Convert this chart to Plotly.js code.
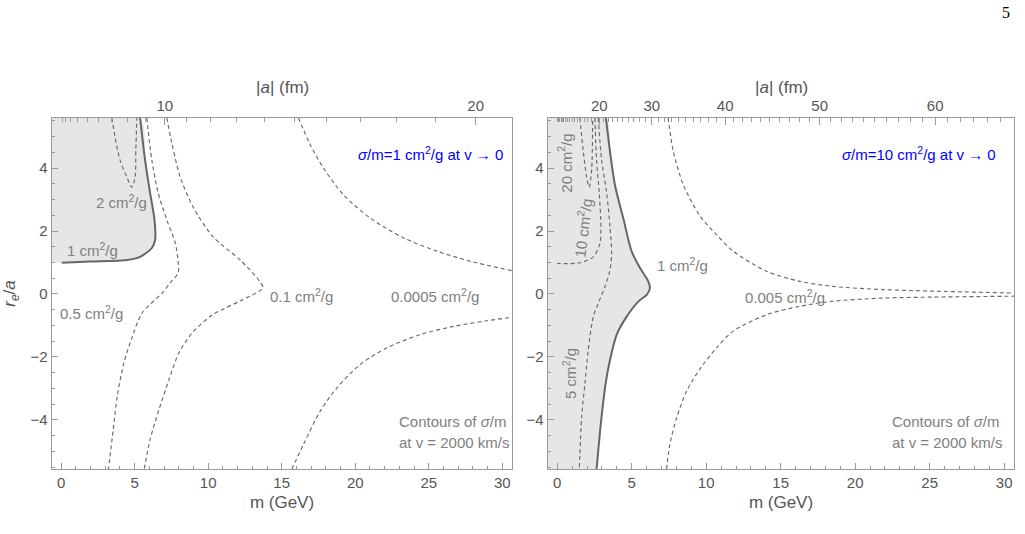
<!DOCTYPE html>
<html>
<head>
<meta charset="utf-8">
<script src="https://cdn.plot.ly/plotly-3.0.1.min.js"></script>
<style>html,body{margin:0;padding:0;background:#fff;}#chart{width:1025px;height:534px;}</style>
</head>
<body>
<div id="chart"></div>
<script>
// ---------- axis / scale data ----------
const xRange = [-0.62, 30.66];
const yRange = [-5.56, 5.59];
const mTicks = [0, 5, 10, 15, 20, 25, 30];
const yTicks = [-4, -2, 0, 2, 4];
// |a| (fm) top-axis labels; |a| = K * sqrt(m)
const K_left = 3.767;                       // sigma/m = 1 cm^2/g at v->0
const K_right = 3.767 * Math.sqrt(10);      // sigma/m = 10 cm^2/g at v->0
const aMajorLeft = [10, 20];
const aMajorRight = [20, 30, 40, 50, 60];

// ---------- left panel contours (m in GeV, r_e/a) ----------
const L1_m = [0.05, 1.97, 4.47, 5.37, 6.17, 6.39, 6.35, 6.05, 5.71, 5.37];
const L1_y = [0.99, 1.03, 1.08, 1.18, 1.46, 1.71, 2.35, 3.21, 4.25, 5.59];
const L2_m = [3.45, 3.67, 4.01, 4.47, 4.81, 5.03, 5.08, 5.15];
const L2_y = [5.59, 4.98, 4.25, 3.71, 3.39, 3.71, 4.57, 5.59];
const L05_m = [5.83, 6.17, 6.60, 7.19, 7.76, 7.96, 7.96, 7.41, 6.87, 5.51, 4.83, 4.27, 3.81, 3.54, 3.22];
const L05_y = [5.59, 4.25, 3.21, 2.35, 1.62, 1.02, 0.67, 0.35, 0.03, -0.60, -1.37, -2.19, -3.27, -4.32, -5.56];
const L01_m = [7.19, 7.53, 8.10, 8.98, 10.34, 12.18, 13.54, 13.72, 12.31, 10.27, 8.91, 8.01, 7.33, 6.65, 6.05, 5.65];
const L01_y = [5.59, 4.79, 3.71, 2.76, 1.81, 1.08, 0.38, 0.19, -0.19, -0.67, -1.24, -1.87, -2.73, -3.68, -4.63, -5.56];
const L0005u_m = [16.14, 16.94, 17.84, 19.20, 21.02, 23.29, 25.56, 27.82, 30.66];
const L0005u_y = [5.59, 4.74, 4.00, 3.15, 2.41, 1.78, 1.36, 1.04, 0.74];
const L0005l_m = [15.69, 16.48, 17.62, 18.76, 20.34, 22.16, 24.42, 26.69, 28.96, 30.66];
const L0005l_y = [-5.56, -4.78, -3.72, -2.98, -2.24, -1.71, -1.29, -1.03, -0.85, -0.74];

// ---------- right panel contours ----------
const R1_m = [3.27, 3.54, 3.87, 4.43, 4.99, 5.55, 6.11, 6.22, 6.02, 5.42, 4.66, 4.01, 3.54, 3.23, 2.93, 2.75, 2.64];
const R1_y = [5.59, 4.53, 3.47, 2.41, 1.36, 0.83, 0.40, 0.19, -0.02, -0.25, -0.72, -1.27, -2.10, -2.90, -4.10, -4.99, -5.56];
const R20_m = [1.52, 1.74, 1.97, 2.15, 2.31, 2.38];
const R20_y = [5.59, 4.57, 3.72, 3.39, 3.94, 5.59];
const R10_m = [2.53, 2.64, 2.82, 2.93, 2.87, 2.42, 1.52, 0.0];
const R10_y = [5.59, 4.25, 3.20, 2.14, 1.61, 1.18, 0.99, 0.97];
const R5_m = [2.75, 2.98, 3.32, 3.54, 3.65, 3.54, 3.20, 2.75, 2.42, 2.08, 1.86, 1.64, 1.48];
const R5_y = [5.59, 4.25, 3.20, 2.14, 1.29, 0.76, 0.23, -0.30, -0.72, -1.78, -2.83, -3.90, -5.56];
const R005u_m = [7.45, 7.79, 8.46, 9.58, 10.70, 11.81, 14.05, 16.29, 18.52, 21.88, 25.23, 30.67];
const R005u_y = [5.59, 4.53, 3.47, 2.48, 1.88, 1.36, 0.72, 0.40, 0.24, 0.14, 0.09, 0.03];
const R005l_m = [7.34, 7.56, 8.01, 8.68, 9.58, 10.70, 11.81, 14.05, 16.29, 18.52, 21.88, 25.23, 30.67];
const R005l_y = [-5.56, -4.78, -3.94, -3.09, -2.38, -1.71, -1.18, -0.66, -0.39, -0.23, -0.13, -0.10, -0.07];

// ---------- labels ----------
const labelsLeft = [
  {t: '2 cm<sup>2</sup>/g', m: 4.12, y: 2.93, anchor: 'center', ang: 0},
  {t: '1 cm<sup>2</sup>/g', m: 2.11, y: 1.40, anchor: 'center', ang: 0},
  {t: '0.5 cm<sup>2</sup>/g', m: 2.05, y: -0.59, anchor: 'center', ang: 0},
  {t: '0.1 cm<sup>2</sup>/g', m: 14.08, y: -0.06, anchor: 'left', ang: 0},
  {t: '0.0005 cm<sup>2</sup>/g', m: 22.31, y: -0.06, anchor: 'left', ang: 0}
];
const labelsRight = [
  {t: '1 cm<sup>2</sup>/g', m: 6.56, y: 0.93, anchor: 'left', ang: 0},
  {t: '0.005 cm<sup>2</sup>/g', m: 12.48, y: -0.07, anchor: 'left', ang: 0},
  {t: '20 cm<sup>2</sup>/g', m: 0.52, y: 4.17, anchor: 'center', ang: -90},
  {t: '10 cm<sup>2</sup>/g', m: 1.70, y: 2.10, anchor: 'center', ang: -83},
  {t: '5 cm<sup>2</sup>/g', m: 0.85, y: -2.51, anchor: 'center', ang: -90}
];
const headLeft = '<i>σ</i>/m=1 cm<sup>2</sup>/g at v → 0';
const headRight = '<i>σ</i>/m=10 cm<sup>2</sup>/g at v → 0';
const foot1 = 'Contours of <i>σ</i>/m';
const foot2 = 'at v = 2000 km/s';
const topTitle = '|<i>a</i>| (fm)';

// ---------- styling ----------
const FONT = 'Liberation Sans, Arial, Helvetica, sans-serif';
const DASH_COL = '#6a6a6a';
const SOLID_COL = '#666666';
const SHADE = '#e6e6e6';
const LABEL_COL = '#808080';
const TICK_COL = '#555555';
const FRAME_COL = '#9a9a9a';

function dashed(mx, my, xa, ya) {
  return {x: mx, y: my, xaxis: xa, yaxis: ya, mode: 'lines', type: 'scatter',
    line: {color: DASH_COL, width: 1.15, dash: '4px,3px', shape: 'spline', smoothing: 0.8},
    hoverinfo: 'skip', showlegend: false};
}
function solid(mx, my, xa, ya) {
  return {x: mx, y: my, xaxis: xa, yaxis: ya, mode: 'lines', type: 'scatter',
    line: {color: SOLID_COL, width: 2, shape: 'spline', smoothing: 0.8},
    hoverinfo: 'skip', showlegend: false};
}
function shade(mx, my, xa, ya) {
  return {x: mx, y: my, xaxis: xa, yaxis: ya, mode: 'lines', type: 'scatter', fill: 'toself',
    fillcolor: SHADE, line: {width: 0, color: SHADE, shape: 'spline', smoothing: 0.8},
    hoverinfo: 'skip', showlegend: false};
}

// shaded regions: left of the 1 cm^2/g boundary, out to the frame
const edgeL = xRange[0] - 0.5;
const shadeL_m = [edgeL].concat(L1_m, [edgeL]);
const shadeL_y = [L1_y[0]].concat(L1_y, [yRange[1] + 0.5]);
const shadeR_m = [edgeL].concat(R1_m, [edgeL]);
const shadeR_y = [yRange[1] + 0.5].concat(R1_y, [yRange[0] - 0.5]);

const traces = [
  shade(shadeL_m, shadeL_y, 'x', 'y'),
  dashed(L2_m, L2_y, 'x', 'y'),
  dashed(L05_m, L05_y, 'x', 'y'),
  dashed(L01_m, L01_y, 'x', 'y'),
  dashed(L0005u_m, L0005u_y, 'x', 'y'),
  dashed(L0005l_m, L0005l_y, 'x', 'y'),
  solid(L1_m, L1_y, 'x', 'y'),
  shade(shadeR_m, shadeR_y, 'x3', 'y2'),
  dashed(R20_m, R20_y, 'x3', 'y2'),
  dashed(R10_m, R10_y, 'x3', 'y2'),
  dashed(R5_m, R5_y, 'x3', 'y2'),
  dashed(R005u_m, R005u_y, 'x3', 'y2'),
  dashed(R005l_m, R005l_y, 'x3', 'y2'),
  solid(R1_m, R1_y, 'x3', 'y2'),
  {x: [], y: [], xaxis: 'x2', yaxis: 'y', type: 'scatter', showlegend: false},
  {x: [], y: [], xaxis: 'x4', yaxis: 'y2', type: 'scatter', showlegend: false}
];

// top axis tick positions from |a| values
function aToM(a, K) { return (a / K) * (a / K); }
function topAxis(K, majors, overlay, anchor, domain) {
  const maxA = Math.floor(K * Math.sqrt(xRange[1]));
  const minor = [];
  for (let a = 1; a <= maxA; a++) if (majors.indexOf(a) < 0) minor.push(aToM(a, K));
  return {
    overlaying: overlay, anchor: anchor, side: 'top', range: xRange.slice(), domain: domain,
    tickmode: 'array', tickvals: majors.map(a => aToM(a, K)), ticktext: majors.map(String),
    ticks: 'inside', ticklen: 7, tickcolor: FRAME_COL, tickwidth: 1,
    minor: {tickmode: 'array', tickvals: minor, ticks: 'inside', ticklen: 3.5, tickcolor: FRAME_COL, tickwidth: 1},
    showline: true, linecolor: FRAME_COL, linewidth: 1.3, showgrid: false, zeroline: false,
    tickfont: {family: FONT, size: 15, color: TICK_COL},
    title: {text: ''},
    fixedrange: true
  };
}
function bottomAxis(anchor, domain) {
  return {
    anchor: anchor, domain: domain, range: xRange.slice(),
    tickmode: 'array', tickvals: mTicks, ticktext: mTicks.map(String),
    ticks: 'inside', ticklen: 6, tickcolor: FRAME_COL, tickwidth: 1,
    minor: {dtick: 1, tick0: 0, ticks: 'inside', ticklen: 3, tickcolor: FRAME_COL, tickwidth: 1},
    showline: true, linecolor: FRAME_COL, linewidth: 1.3, mirror: true, showgrid: false, zeroline: false,
    tickfont: {family: FONT, size: 15, color: TICK_COL},
    title: {text: 'm (GeV)', font: {family: FONT, size: 17, color: TICK_COL}, standoff: 5},
    fixedrange: true
  };
}
function leftAxis(anchor, withTitle) {
  return {
    anchor: anchor, domain: [65 / 534, 416 / 534], range: yRange.slice(),
    tickmode: 'array', tickvals: yTicks, ticktext: yTicks.map(v => v < 0 ? '−' + (-v) : String(v)),
    ticks: 'inside', ticklen: 6, tickcolor: FRAME_COL, tickwidth: 1,
    minor: {dtick: 0.5, tick0: 0, ticks: 'inside', ticklen: 3, tickcolor: FRAME_COL, tickwidth: 1},
    showline: true, linecolor: FRAME_COL, linewidth: 1.3, mirror: true, showgrid: false, zeroline: false,
    tickfont: {family: FONT, size: 15, color: TICK_COL},
    title: withTitle ? {text: '<i>r<sub>e</sub></i>/<i>a</i>', font: {family: FONT, size: 17, color: TICK_COL}, standoff: 12} : {text: ''},
    fixedrange: true
  };
}

const domL = [52 / 1025, 512 / 1025];
const domR = [548 / 1025, 1014 / 1025];

const annotations = [];
function addLabels(list, xa, ya) {
  list.forEach(l => annotations.push({
    xref: xa, yref: ya, x: l.m, y: l.y, text: l.t, showarrow: false,
    xanchor: l.anchor, yanchor: 'middle', textangle: l.ang,
    font: {family: FONT, size: 15, color: LABEL_COL}
  }));
}
addLabels(labelsLeft, 'x', 'y');
addLabels(labelsRight, 'x3', 'y2');
annotations.push({xref: 'x', yref: 'y', x: 30.2, y: 4.47, text: headLeft, showarrow: false, xanchor: 'right', yanchor: 'middle', font: {family: FONT, size: 15, color: '#0000ff'}});
annotations.push({xref: 'x3', yref: 'y2', x: 29.6, y: 4.47, text: headRight, showarrow: false, xanchor: 'right', yanchor: 'middle', font: {family: FONT, size: 15, color: '#0000ff'}});
[['x', 'y', 22.84], ['x3', 'y2', 22.33]].forEach(p => {
  annotations.push({xref: p[0], yref: p[1], x: p[2], y: -4.04, text: foot1, showarrow: false, xanchor: 'left', yanchor: 'middle', font: {family: FONT, size: 15, color: LABEL_COL}});
  annotations.push({xref: p[0], yref: p[1], x: p[2], y: -4.73, text: foot2, showarrow: false, xanchor: 'left', yanchor: 'middle', font: {family: FONT, size: 15, color: LABEL_COL}});
});
// top axis titles
[domL, domR].forEach(d => annotations.push({
  xref: 'paper', yref: 'paper', x: (d[0] + d[1]) / 2, y: 1 - 88 / 534, text: topTitle, showarrow: false,
  xanchor: 'center', yanchor: 'middle', font: {family: FONT, size: 17, color: TICK_COL}
}));
annotations.push({xref: 'paper', yref: 'paper', x: 1012 / 1025, y: 1 - 12 / 534, text: '5', showarrow: false, xanchor: 'right', yanchor: 'middle', font: {family: 'Liberation Serif, DejaVu Serif, serif', size: 16, color: '#000'}});

const layout = {
  width: 1025, height: 534,
  margin: {l: 0, r: 0, t: 0, b: 0, autoexpand: false},
  paper_bgcolor: '#ffffff', plot_bgcolor: '#ffffff',
  showlegend: false,
  xaxis: bottomAxis('y', domL),
  xaxis2: topAxis(K_left, aMajorLeft, 'x', 'y', domL),
  yaxis: leftAxis('x', true),
  xaxis3: bottomAxis('y2', domR),
  xaxis4: topAxis(K_right, aMajorRight, 'x3', 'y2', domR),
  yaxis2: leftAxis('x3', false),
  annotations: annotations
};

Plotly.newPlot('chart', traces, layout, {displayModeBar: false, staticPlot: true});
</script>
</body>
</html>
